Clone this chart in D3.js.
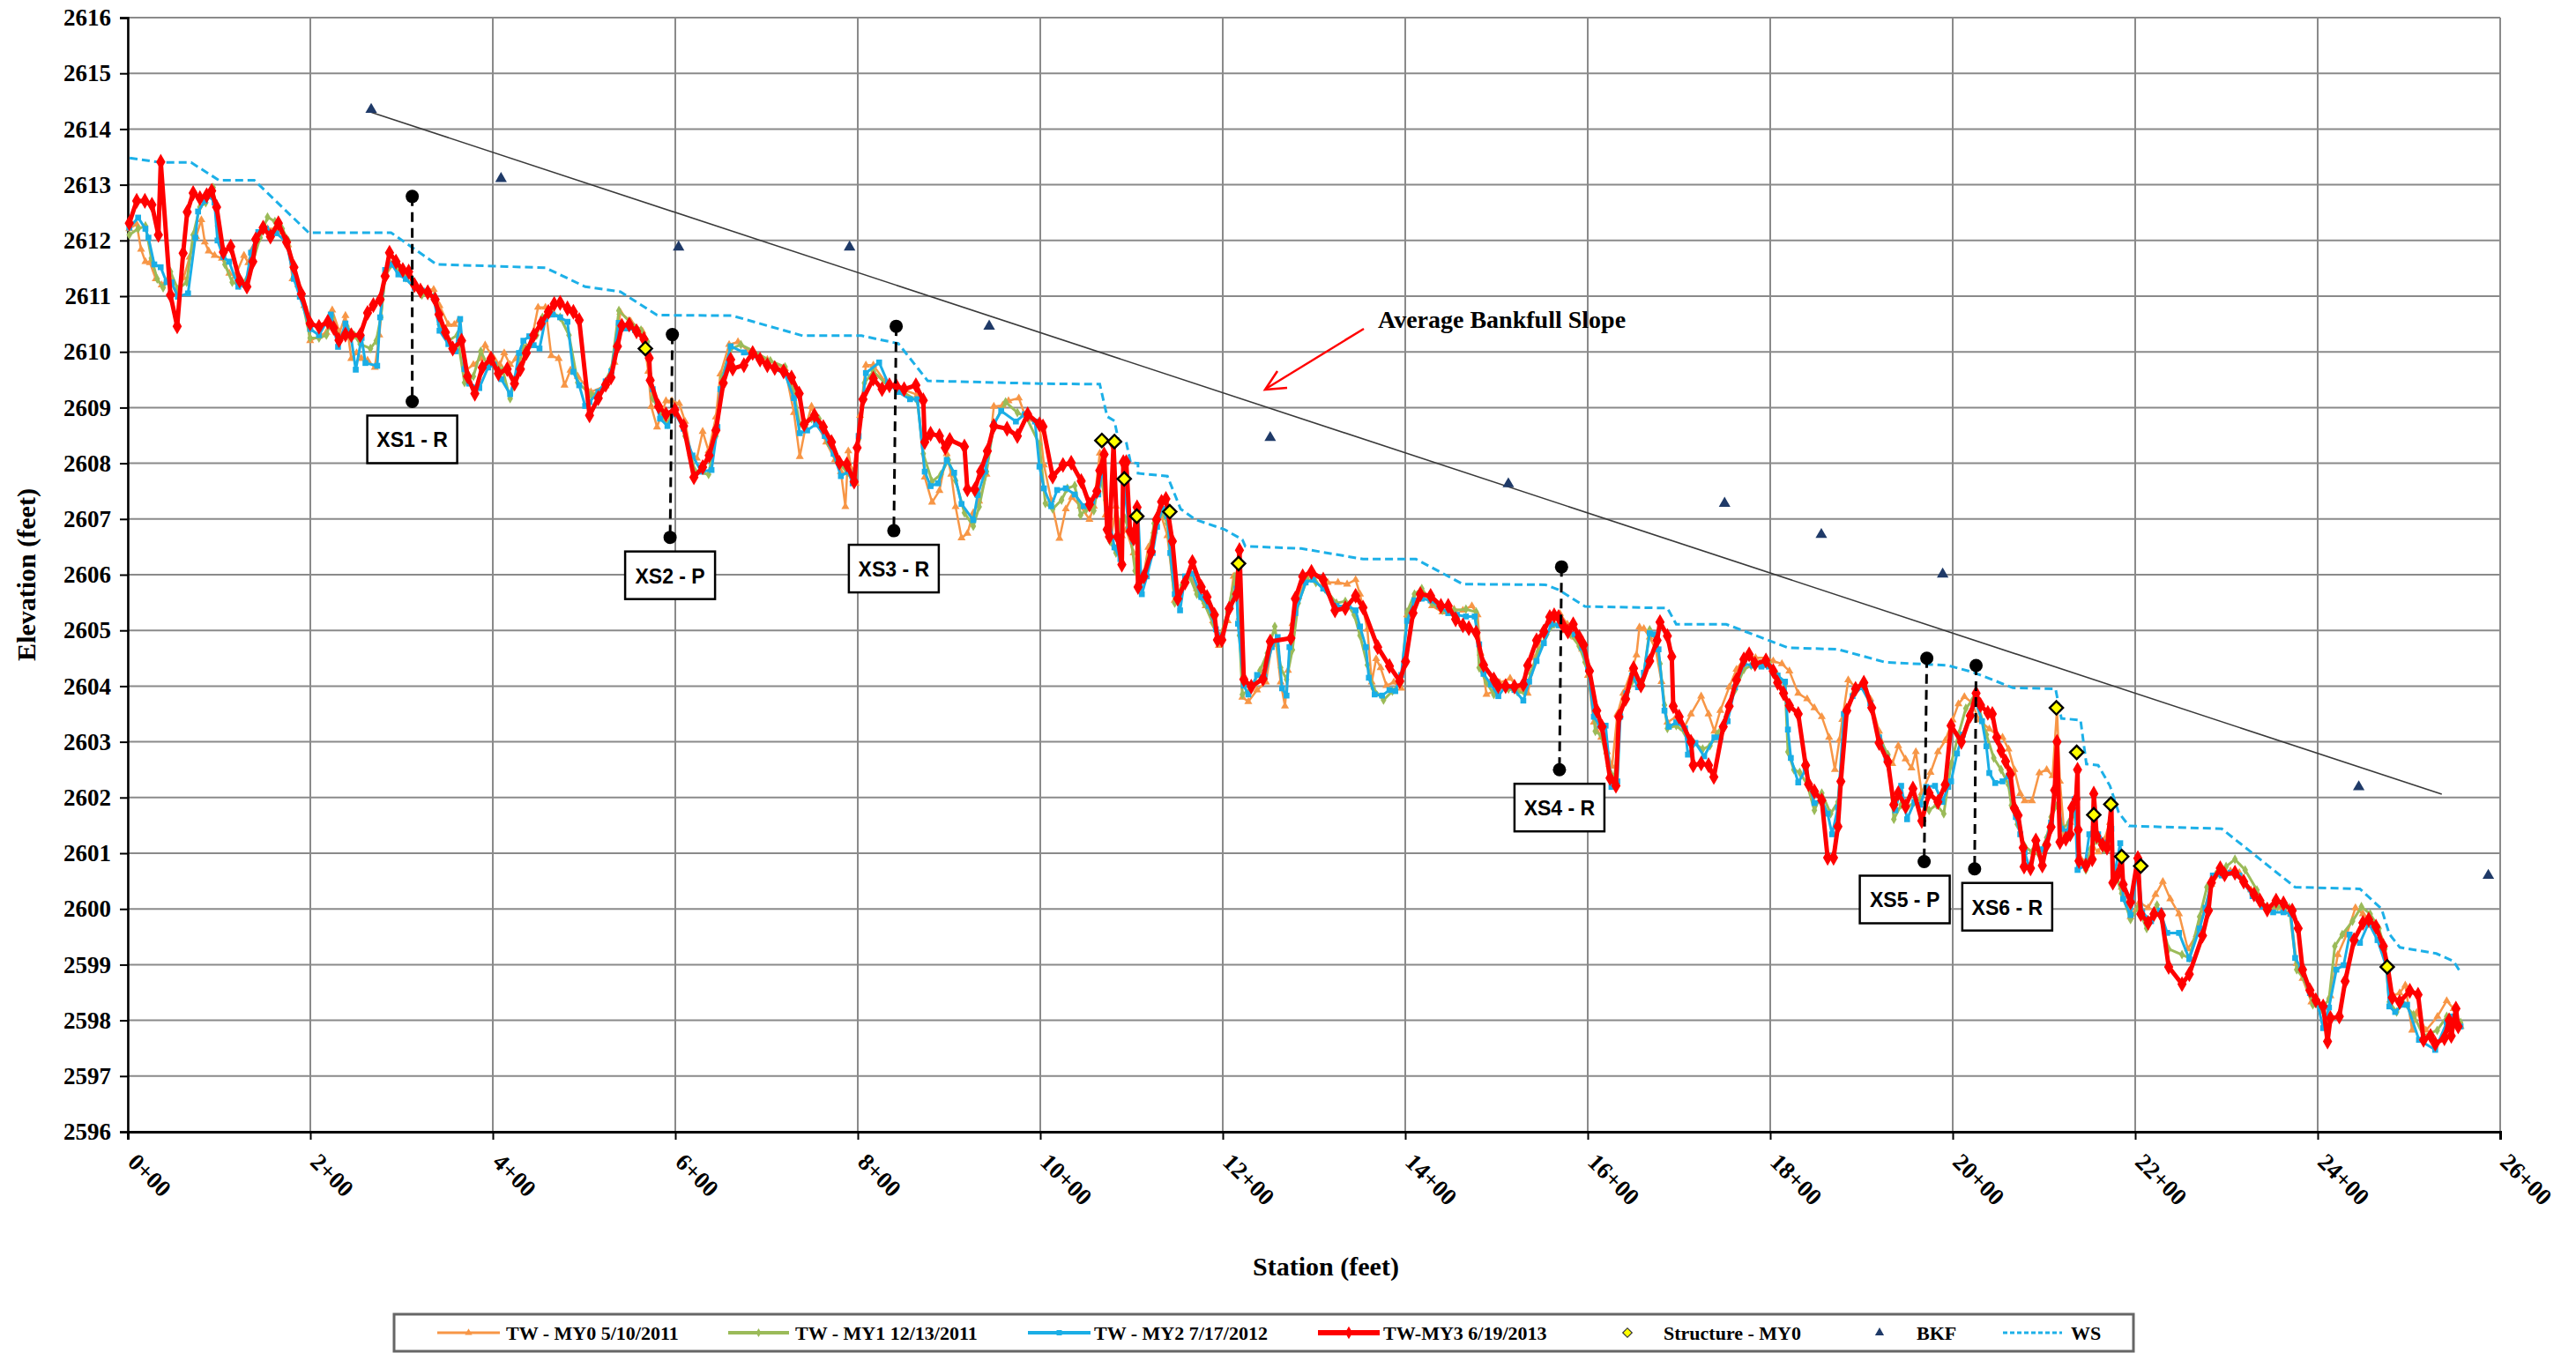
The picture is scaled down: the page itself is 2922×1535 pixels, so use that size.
<!DOCTYPE html>
<html>
<head>
<meta charset="utf-8">
<title>Longitudinal Profile</title>
<script src="https://d3js.org/d3.v7.min.js"></script>
<style>
body{margin:0; background:#fff;}
svg{display:block; background:#fff;}
text{font-family:"Liberation Serif","Times New Roman",serif; font-weight:bold; fill:#000;}
</style>
</head>
<body>
<script>
// ---- data: [station (ft), elevation (ft)] ----
var twMY0 = [[1.6,2612.21],[9.7,2612.29],[14.5,2611.84],[19.3,2611.62],[24.2,2611.60],[30.6,2611.31],[37.1,2611.20],[45.1,2611.33],[53.2,2611.04],[61.2,2611.33],[67.7,2611.70],[74.8,2612.07],[80.6,2612.37],[84.4,2611.97],[88.6,2611.81],[95.1,2611.73],[103.1,2611.68],[111.2,2611.41],[117.6,2611.36],[127.3,2611.73],[132.1,2611.60],[137,2611.86],[145,2612.15],[153.1,2612.21],[161.2,2612.21],[169.2,2612.15],[175.7,2611.92],[180.5,2611.31],[186.9,2611.20],[193.4,2610.83],[199.8,2610.20],[209.5,2610.28],[217.6,2610.35],[224,2610.75],[232.1,2610.35],[238.5,2610.65],[244.9,2609.88],[250.7,2609.98],[256.2,2609.88],[262.7,2609.85],[270.7,2609.72],[275.6,2610.30],[282,2611.36],[290.1,2611.57],[298.1,2611.52],[306.2,2611.41],[314.2,2611.20],[322.3,2611.12],[335.2,2611.12],[341.6,2610.83],[351.3,2610.49],[357.8,2610.49],[362.6,2610.57],[370.6,2609.67],[378.7,2609.77],[386.8,2609.88],[391.6,2610.12],[401.3,2609.88],[407.7,2609.77],[412.5,2609.98],[419,2609.77],[425.4,2609.88],[430.3,2609.98],[436.7,2610.09],[441.6,2610.14],[449.6,2610.80],[457.7,2610.80],[464.1,2609.93],[472.2,2609.88],[478.6,2609.40],[485.1,2609.67],[493.1,2609.56],[507.6,2609.28],[523.7,2609.39],[533.4,2609.81],[539.8,2610.71],[551,2610.55],[564,2610.37],[570.4,2609.65],[573.6,2609.02],[580,2608.65],[589.8,2609.12],[596.2,2609.12],[604.3,2609.07],[610.7,2608.75],[617.2,2608.17],[623.6,2608.09],[630,2608.57],[636.5,2608.22],[644.5,2608.83],[649.4,2609.60],[659,2610.13],[668.7,2610.18],[681.6,2609.99],[700.9,2609.86],[720.3,2609.70],[730,2608.91],[736.4,2608.12],[742.8,2608.65],[749.3,2609.02],[755.7,2608.70],[765.4,2608.38],[775,2608.06],[781.5,2607.85],[786.4,2607.22],[789.6,2608.22],[792.8,2607.90],[797.6,2607.64],[802.5,2608.86],[808.9,2609.76],[817,2609.76],[829.9,2609.47],[845,2609.35],[865.3,2609.23],[873.4,2607.75],[881.4,2607.30],[889.5,2607.51],[897.5,2608.17],[902.4,2607.80],[907.2,2607.22],[913.7,2606.66],[920.1,2606.74],[926.6,2607.11],[933,2607.32],[941.1,2607.80],[949.1,2609.02],[958.8,2609.04],[965.2,2609.12],[976.5,2609.17],[984.6,2608.80],[999.1,2608.71],[1004,2607.97],[1012,2607.34],[1021,2606.65],[1028,2607.18],[1034.6,2607.39],[1044.2,2607.23],[1053.9,2606.99],[1058.7,2607.23],[1065.2,2608.18],[1071.6,2607.07],[1078,2606.70],[1083,2607.23],[1089.4,2606.70],[1094.2,2606.81],[1102.3,2606.39],[1107.1,2605.81],[1113.5,2606.02],[1118.4,2606.49],[1124.8,2606.78],[1131.3,2607.13],[1139.3,2606.70],[1147.4,2605.54],[1157,2605.86],[1163.5,2606.02],[1171.6,2605.75],[1181.2,2605.44],[1189.3,2605.17],[1195.7,2604.73],[1205.4,2605.17],[1211.8,2605.97],[1218.3,2605.23],[1221.5,2603.80],[1228,2603.72],[1237.6,2603.93],[1247.3,2604.07],[1253.7,2604.75],[1258.6,2604.75],[1263.4,2604.07],[1268.2,2603.64],[1271.5,2604.28],[1276.3,2605.12],[1282.7,2605.60],[1292.4,2605.97],[1302.1,2605.97],[1315,2605.86],[1326.3,2605.86],[1336.3,2605.83],[1345.6,2605.91],[1350.4,2605.65],[1358.5,2605.02],[1363.3,2604.07],[1368.1,2604.49],[1373,2604.33],[1379.4,2604.01],[1387.5,2604.07],[1395.6,2603.96],[1402,2605.28],[1410.1,2605.54],[1419.7,2605.65],[1429.4,2605.44],[1440.7,2605.33],[1453.5,2605.38],[1463.2,2605.36],[1473,2605.44],[1479.3,2605.28],[1482.6,2604.59],[1489,2603.85],[1497.1,2603.91],[1503.6,2604.06],[1514.9,2604.14],[1526.1,2603.93],[1534.2,2603.87],[1542.2,2604.51],[1551.9,2605.03],[1561.6,2605.24],[1569.6,2605.30],[1577.7,2605.11],[1585.8,2604.88],[1593.8,2604.66],[1600.3,2604.19],[1606.7,2603.35],[1614.8,2603.08],[1621.2,2602.82],[1626.7,2602.56],[1632.5,2603.50],[1638.9,2603.87],[1648.6,2604.30],[1653.4,2604.56],[1656.7,2605.06],[1661.5,2605.03],[1667.9,2604.88],[1674.4,2604.66],[1680.8,2604.08],[1687.3,2603.35],[1697,2603.45],[1705,2603.24],[1713.1,2603.50],[1724.3,2603.82],[1732.4,2603.50],[1738.8,2603.19],[1745.3,2603.56],[1755,2603.98],[1763,2604.30],[1774.3,2604.56],[1783.9,2604.51],[1795.3,2604.51],[1803.3,2604.45],[1812.8,2604.40],[1821,2604.27],[1830.7,2603.87],[1840.4,2603.77],[1848.4,2603.61],[1856.5,2603.45],[1864.5,2603.08],[1870.9,2602.50],[1875.8,2603.03],[1879,2603.40],[1885.5,2604.11],[1893.5,2603.98],[1901.6,2604.03],[1909.7,2603.77],[1919.3,2603.19],[1927.4,2602.77],[1933.8,2602.61],[1940.3,2602.93],[1948.3,2602.69],[1954.8,2602.53],[1959.6,2602.82],[1966,2602.08],[1975.7,2602.45],[1983.8,2602.82],[1991.8,2603.02],[1999.9,2603.39],[2006.3,2603.68],[2012.8,2603.81],[2020.8,2603.71],[2028.9,2603.39],[2040.1,2603.23],[2048.2,2603.13],[2054.6,2603.08],[2061.1,2602.87],[2067.5,2602.50],[2074,2602.07],[2078.8,2601.94],[2086.9,2601.94],[2094.9,2602.44],[2103,2602.50],[2109.4,2602.39],[2114.3,2603.58],[2117.5,2602.29],[2122.3,2601.34],[2128.8,2601.55],[2135.2,2601.86],[2140.1,2600.91],[2146.5,2600.86],[2153,2601.13],[2159.4,2601.02],[2165.8,2601.23],[2172.3,2601.55],[2177.1,2600.65],[2185.2,2600.39],[2194.9,2599.86],[2204.5,2600.12],[2214.2,2600.02],[2222.2,2600.26],[2230.3,2600.49],[2238.4,2600.18],[2248,2599.91],[2257.7,2599.28],[2267.4,2599.54],[2275.4,2599.97],[2283.5,2600.44],[2293.2,2600.65],[2304.4,2600.68],[2314.1,2600.65],[2327,2600.34],[2338.3,2600.10],[2349.6,2600.02],[2362.5,2599.99],[2370.5,2599.91],[2377,2599.02],[2383.4,2598.75],[2393.1,2598.33],[2404.3,2598.17],[2410.8,2597.96],[2414,2598.44],[2422.1,2599.18],[2431.7,2599.54],[2441.4,2600.02],[2449.5,2599.91],[2459.1,2599.70],[2468.8,2599.49],[2476.9,2598.96],[2481.7,2598.44],[2489.8,2598.49],[2496,2598.63],[2503.5,2597.82],[2508.6,2598.14],[2518.7,2597.82],[2531.3,2598.07],[2541.4,2598.35],[2549,2598.21],[2556.6,2597.89]];

var twMY1 = [[1.6,2612.10],[11.3,2612.21],[19.3,2612.26],[25.8,2611.68],[32.2,2611.31],[38.7,2611.15],[46.7,2611.44],[54.8,2611.12],[64.5,2611.25],[71.6,2612.10],[79,2612.60],[85.4,2612.68],[93.5,2612.95],[98.3,2612.26],[106.4,2611.57],[114.4,2611.25],[122.5,2611.20],[130.5,2611.31],[137,2611.62],[145,2612.05],[153.1,2612.42],[161.2,2612.34],[169.2,2612.21],[175.7,2612.00],[182.1,2611.36],[190.2,2610.99],[199.8,2610.25],[209.5,2610.25],[217.6,2610.30],[224,2610.62],[232.1,2610.20],[240.1,2610.46],[248.2,2610.30],[254.6,2610.14],[265.9,2610.06],[272.3,2610.20],[277.2,2610.62],[282,2611.36],[288.5,2611.57],[296.5,2611.47],[304.6,2611.33],[314.2,2611.15],[322.3,2611.02],[335.2,2610.99],[341.6,2610.49],[351.3,2610.20],[361,2610.30],[369,2609.45],[378.7,2609.56],[386.8,2610.01],[394.8,2609.75],[402.9,2609.77],[410.9,2609.67],[419,2609.16],[425.4,2609.56],[433.5,2610.09],[441.6,2610.14],[448,2610.30],[454.4,2610.62],[464.1,2610.72],[473.8,2610.62],[483.5,2610.30],[493.1,2609.45],[507.6,2609.23],[517.2,2609.28],[530.1,2609.70],[538.2,2610.74],[549.5,2610.55],[562.4,2610.39],[569.5,2610.18],[575.3,2609.17],[583.3,2608.91],[591.4,2608.70],[599.4,2609.02],[610.7,2608.49],[622,2607.85],[636.5,2607.80],[644.5,2608.49],[651,2609.54],[660.7,2610.05],[671.9,2610.13],[684.8,2610.02],[704.2,2609.84],[720.3,2609.73],[730,2609.28],[736.4,2608.70],[749.3,2608.80],[757.4,2608.80],[767,2608.38],[776.7,2608.04],[788,2607.85],[794.4,2607.69],[800.9,2608.43],[807.3,2609.44],[817,2609.65],[833.1,2609.39],[844.4,2609.33],[865.3,2609.12],[871.8,2608.17],[881.4,2607.67],[891.1,2607.80],[899.2,2608.06],[907.2,2607.69],[916.9,2607.11],[926.6,2606.87],[933,2607.22],[941.1,2607.85],[949.1,2608.70],[962,2609.10],[974.9,2608.91],[984.6,2608.83],[999.1,2608.34],[1005.6,2607.28],[1013.6,2607.18],[1023.3,2607.34],[1029.7,2607.55],[1037.8,2607.60],[1044.2,2607.07],[1050.7,2607.18],[1058.7,2607.15],[1065.2,2607.81],[1071.6,2607.34],[1076.5,2606.60],[1083,2606.39],[1087.8,2606.92],[1092.6,2607.02],[1099,2606.70],[1103.9,2606.07],[1110.3,2605.86],[1118.4,2606.28],[1124.8,2606.92],[1131.3,2607.18],[1139.3,2606.92],[1147.4,2605.49],[1155.4,2605.81],[1163.5,2605.97],[1171.6,2605.65],[1179.6,2605.49],[1189.3,2605.12],[1195.7,2604.80],[1205.4,2605.33],[1213.5,2605.97],[1218.3,2604.91],[1221.5,2603.85],[1231.2,2603.96],[1240.8,2604.28],[1248.9,2604.59],[1257,2605.07],[1263.4,2604.33],[1269.9,2604.12],[1276.3,2604.65],[1282.7,2605.49],[1292.4,2605.91],[1302.1,2605.86],[1311.8,2605.75],[1324.6,2605.49],[1334.3,2605.52],[1344.1,2605.28],[1350.4,2604.91],[1358.5,2604.38],[1364.9,2603.96],[1376.2,2603.75],[1385.9,2603.91],[1395.6,2604.07],[1402,2605.33],[1410.1,2605.65],[1418.1,2605.75],[1429.4,2605.49],[1440.7,2605.36],[1453.5,2605.36],[1466.5,2605.38],[1477.7,2605.33],[1481,2604.33],[1489,2604.07],[1497.1,2603.85],[1502,2603.98],[1513.2,2603.95],[1522.9,2603.90],[1531,2603.87],[1537.4,2604.22],[1545.5,2604.61],[1555.1,2604.93],[1563.2,2605.11],[1572.9,2605.03],[1580.9,2604.93],[1590.6,2604.72],[1597,2604.43],[1603.5,2603.98],[1608.3,2603.19],[1614.8,2603.11],[1622.8,2602.56],[1629.3,2602.35],[1635.7,2603.51],[1643.8,2603.90],[1651.8,2604.14],[1659.9,2604.03],[1667.9,2605.01],[1674.4,2604.88],[1679.2,2604.40],[1684.1,2603.66],[1687.3,2603.24],[1697,2603.29],[1706.6,2603.16],[1716.3,2602.98],[1726,2602.87],[1734,2602.93],[1742.1,2603.14],[1751.7,2603.45],[1761.4,2603.93],[1771.1,2604.30],[1779.1,2604.37],[1788.8,2604.40],[1798.5,2604.43],[1808.1,2604.19],[1816.2,2604.03],[1819.4,2602.82],[1825.9,2602.50],[1832.3,2602.45],[1840.4,2602.24],[1848.4,2601.77],[1856.5,2602.08],[1866.2,2601.71],[1874.2,2601.92],[1882.3,2603.50],[1890.3,2603.85],[1900,2604.03],[1909.7,2603.72],[1919.3,2603.08],[1929,2602.77],[1935.5,2601.61],[1943.5,2601.87],[1950,2601.82],[1958,2601.92],[1964.5,2601.98],[1974.1,2601.77],[1982.2,2601.87],[1990.2,2601.71],[1998.2,2602.60],[2006.3,2603.13],[2014.4,2603.60],[2022.4,2603.76],[2028.9,2603.60],[2036.9,2603.13],[2045,2602.71],[2053,2602.50],[2061.1,2602.23],[2064.3,2601.86],[2070.8,2601.52],[2078.8,2601.13],[2086.9,2601.02],[2094.9,2600.97],[2103,2601.28],[2107.8,2601.65],[2114.3,2601.86],[2120.7,2601.44],[2127.2,2601.55],[2133.6,2601.71],[2138.4,2600.91],[2145.9,2600.70],[2151.3,2601.07],[2157.8,2601.23],[2165.8,2601.07],[2172.3,2601.23],[2177.1,2600.70],[2185.2,2600.28],[2194.9,2599.81],[2202.9,2600.02],[2212.6,2599.65],[2223.9,2600.07],[2236.7,2599.28],[2251.3,2599.18],[2259.3,2599.12],[2270.6,2599.86],[2278.6,2600.39],[2288.3,2600.62],[2299.6,2600.76],[2309.3,2600.89],[2320.5,2600.70],[2333.4,2600.34],[2343.1,2600.02],[2356,2600.04],[2368.9,2600.02],[2377,2598.91],[2384.9,2598.75],[2394.7,2598.28],[2404.3,2598.20],[2412.4,2598.38],[2418.8,2599.33],[2426.9,2599.54],[2438.2,2599.78],[2447.9,2600.04],[2457.5,2599.91],[2467.2,2599.65],[2473.6,2599.28],[2478.5,2598.33],[2486.5,2598.15],[2493,2598.33],[2505,2598.10],[2516,2597.72],[2531,2597.82],[2541.4,2598.07],[2556.6,2597.96]];

var twMY2 = [[1.6,2612.23],[11.3,2612.41],[19.3,2612.21],[22.6,2612.05],[29,2611.57],[36,2611.52],[42.5,2611.25],[48,2611.25],[54.8,2610.99],[66,2611.05],[74,2612.05],[77,2612.52],[84.4,2612.71],[90,2612.79],[95,2612.68],[98.3,2612.00],[104.7,2611.70],[111,2611.62],[121,2611.17],[129,2611.20],[135,2611.78],[143,2612.15],[151.5,2612.21],[162.8,2612.13],[174,2611.97],[182,2611.31],[188.5,2610.99],[200,2610.41],[209.5,2610.30],[222.4,2610.67],[230.4,2610.09],[238.5,2610.51],[244.3,2610.30],[249.8,2609.68],[256.2,2610.25],[260.4,2609.80],[273.3,2609.75],[276.5,2610.62],[282,2611.47],[289.4,2611.57],[296.5,2611.39],[304.6,2611.31],[314.2,2611.15],[322.3,2611.10],[335.2,2610.99],[341.6,2610.38],[351.3,2610.14],[359.4,2610.01],[364.2,2610.59],[369,2609.69],[374,2609.43],[385.2,2609.35],[394.8,2609.72],[401.3,2609.77],[409.3,2609.51],[419,2609.24],[423.8,2609.51],[428.7,2609.98],[433.5,2610.20],[440,2610.28],[444.8,2610.12],[451.2,2610.06],[457.7,2610.59],[465.7,2610.67],[473.8,2610.62],[481.8,2610.54],[488.3,2609.64],[494.7,2609.40],[501.2,2609.03],[506,2609.10],[515.6,2609.28],[523.7,2609.47],[530,2609.65],[538,2610.52],[546.2,2610.42],[555.9,2610.39],[565.6,2610.23],[568.8,2610.02],[575.3,2609.33],[583.3,2608.80],[591.4,2608.67],[599.4,2608.91],[609.1,2608.62],[618.8,2608.14],[628.4,2607.85],[639.7,2607.88],[646.2,2608.65],[649.4,2609.33],[660.7,2610.10],[675.2,2609.99],[684.8,2609.94],[700.9,2609.76],[720.3,2609.60],[730,2609.17],[736.4,2608.54],[744.5,2608.59],[754.1,2608.70],[763.8,2608.49],[773.5,2608.17],[781.5,2607.77],[789.6,2607.85],[794.4,2607.64],[800.9,2608.49],[808.9,2609.62],[823.4,2609.81],[833.1,2609.44],[844.3,2609.28],[857.3,2609.15],[865.3,2609.15],[873.4,2607.85],[879.8,2607.59],[887.9,2607.64],[897.5,2608.06],[905.6,2607.83],[913.7,2607.27],[926.6,2606.98],[931.4,2607.43],[939.5,2607.85],[949.1,2608.70],[957.2,2608.94],[973.3,2608.75],[983,2608.88],[994.2,2608.75],[999.1,2607.94],[1004,2607.55],[1012,2607.23],[1018.5,2607.52],[1028,2607.55],[1037.8,2607.44],[1047.5,2607.23],[1057,2607.31],[1063.6,2607.44],[1068.4,2607.92],[1073.3,2607.18],[1081.3,2606.49],[1087.8,2606.28],[1091.6,2607.65],[1097.4,2606.81],[1102.3,2606.60],[1107,2607.18],[1111.3,2605.65],[1116.8,2605.97],[1123.2,2606.39],[1128,2606.86],[1133.8,2607.18],[1139.3,2607.05],[1142.5,2606.39],[1147.4,2605.65],[1153.2,2605.36],[1158.7,2605.97],[1166.7,2606.02],[1176.4,2605.60],[1184.4,2605.44],[1192.5,2605.02],[1199,2604.88],[1208.6,2605.44],[1215.1,2605.75],[1216.7,2605.12],[1223.1,2604.01],[1228,2603.85],[1237.6,2604.20],[1245.7,2604.17],[1253.7,2604.70],[1260.2,2604.88],[1265,2603.96],[1269.9,2603.83],[1273.1,2604.70],[1279.5,2605.31],[1290.8,2605.86],[1298.9,2605.91],[1310.1,2605.75],[1324.6,2605.44],[1337.5,2605.44],[1345.6,2605.36],[1350.4,2605.07],[1356.9,2604.70],[1360.1,2604.15],[1366.5,2603.85],[1374.6,2603.83],[1382.7,2603.93],[1389.1,2603.91],[1395.6,2604.20],[1402,2605.17],[1410.1,2605.54],[1418.1,2605.57],[1427.8,2605.54],[1437.4,2605.44],[1447.1,2605.31],[1456.6,2605.28],[1466.5,2605.25],[1476.1,2605.25],[1481,2604.75],[1485.8,2604.22],[1493.9,2604.03],[1502,2603.82],[1510,2604.00],[1519.7,2603.93],[1529.4,2603.74],[1535.8,2604.08],[1543.9,2604.45],[1551.9,2604.77],[1560,2605.11],[1568,2605.09],[1576.1,2605.03],[1585.8,2604.93],[1593.8,2604.69],[1600.3,2604.30],[1606.7,2603.45],[1613.2,2603.29],[1619.6,2603.29],[1626,2602.19],[1632.5,2602.29],[1635.7,2603.45],[1642.2,2603.87],[1648.6,2604.19],[1655.1,2603.98],[1661.5,2604.24],[1667.9,2604.95],[1672.8,2604.93],[1677.6,2604.66],[1684.1,2603.56],[1688.9,2603.27],[1697,2603.35],[1706.6,2603.24],[1709.8,2602.77],[1718,2602.98],[1727.6,2602.74],[1738.8,2603.08],[1745.3,2603.08],[1753.3,2603.37],[1761.4,2603.98],[1771.1,2604.40],[1780.7,2604.37],[1790.4,2604.35],[1798.5,2604.35],[1808.1,2604.19],[1816.2,2604.08],[1819.4,2603.22],[1822.6,2602.71],[1830.7,2602.27],[1838.8,2602.50],[1848.4,2601.90],[1856.5,2601.95],[1862.9,2601.71],[1867.8,2601.34],[1874.2,2601.82],[1880.7,2603.50],[1890.3,2603.82],[1900,2603.98],[1909.7,2603.69],[1919.3,2603.08],[1927.4,2602.71],[1937.1,2601.77],[1943.5,2602.21],[1950,2601.61],[1958,2601.92],[1964.5,2601.87],[1970.9,2602.19],[1980.6,2602.21],[1988.6,2601.92],[1995.1,2602.19],[1998.2,2602.29],[2004.7,2602.79],[2011.1,2603.13],[2019.2,2603.47],[2025.6,2603.71],[2032.1,2603.37],[2036.9,2602.92],[2040.1,2602.44],[2046.6,2602.26],[2054.6,2602.29],[2061.1,2602.39],[2069.2,2601.65],[2074,2601.34],[2078.8,2601.02],[2083.7,2600.76],[2091.7,2601.13],[2099.8,2601.07],[2107.8,2601.55],[2114.3,2602.29],[2119.1,2601.44],[2125.6,2601.39],[2133.6,2601.97],[2136.8,2600.70],[2144.9,2600.78],[2149.7,2601.34],[2154.6,2601.44],[2159.4,2601.34],[2167.5,2601.18],[2173.9,2601.44],[2177.1,2600.60],[2183.6,2601.18],[2186.8,2600.18],[2194.9,2599.89],[2202.9,2600.76],[2207.7,2599.94],[2217.4,2599.78],[2227.1,2599.97],[2235.1,2599.57],[2248,2599.57],[2259.3,2599.10],[2270.6,2599.65],[2277,2600.02],[2285.1,2600.60],[2294.8,2600.60],[2304.4,2600.65],[2314.1,2600.60],[2328.6,2600.23],[2339.9,2600.04],[2351.2,2599.94],[2362.5,2599.94],[2370.5,2599.91],[2375.3,2599.12],[2381.8,2598.94],[2391.5,2598.49],[2399.5,2598.33],[2406,2597.86],[2412.4,2598.23],[2420.5,2598.91],[2428.5,2598.99],[2435,2599.54],[2446.3,2599.39],[2455.9,2599.75],[2465.6,2599.44],[2475.3,2598.96],[2478.5,2598.25],[2484.9,2598.15],[2493,2598.28],[2498,2598.28],[2511,2597.65],[2528.8,2597.47],[2541.4,2597.96],[2546.4,2598.07],[2556.6,2597.89]];

var twMY3 = [[1.6,2612.31],[9.7,2612.71],[18.7,2612.71],[26.4,2612.64],[33.5,2612.10],[36.1,2613.41],[46.7,2611.02],[54.1,2610.46],[60.6,2611.77],[65.1,2612.51],[71.6,2612.85],[79,2612.76],[86.4,2612.81],[91.9,2612.89],[97.3,2612.60],[104.7,2611.79],[112.8,2611.89],[122.5,2611.28],[130.5,2611.17],[137,2611.62],[140.2,2612.02],[148.3,2612.23],[156.3,2612.07],[165,2612.31],[174,2611.97],[182.1,2611.52],[190.2,2611.04],[199.8,2610.51],[209.5,2610.45],[219.2,2610.54],[225.6,2610.43],[231.4,2610.21],[238.5,2610.31],[244.9,2610.30],[254.6,2610.30],[262.7,2610.70],[269.1,2610.84],[276.5,2610.94],[282,2611.36],[286.8,2611.78],[293.9,2611.62],[301.4,2611.47],[307.8,2611.44],[314.2,2611.20],[320.7,2611.10],[328.7,2611.07],[336.8,2610.94],[341,2610.67],[348.1,2610.35],[356.1,2610.06],[365.8,2610.20],[372.3,2609.56],[380.3,2609.25],[388.4,2609.72],[398,2609.88],[406.1,2609.61],[415.8,2609.69],[423.8,2609.43],[430.3,2609.69],[436.7,2609.98],[444.8,2610.30],[452.8,2610.51],[460.9,2610.72],[467.3,2610.86],[473.8,2610.88],[481.8,2610.78],[488.3,2610.72],[494.7,2610.57],[506,2608.86],[515.6,2609.17],[523.7,2609.41],[529.5,2609.54],[536.6,2610.10],[541.4,2610.47],[549.5,2610.49],[557.5,2610.37],[565.6,2610.23],[571.4,2609.89],[572.5,2609.49],[581.7,2609.02],[589.8,2608.88],[599.4,2608.96],[609.1,2608.67],[620.4,2607.75],[630,2607.93],[637.1,2608.14],[644.5,2608.59],[652.6,2609.44],[660.7,2609.86],[662.9,2609.70],[675.2,2609.76],[684.8,2609.98],[692.9,2609.86],[700.9,2609.76],[709,2609.71],[718.7,2609.65],[727.4,2609.54],[735.8,2609.25],[741.2,2608.70],[752.5,2608.86],[762.2,2608.65],[771.2,2608.38],[779.9,2608.01],[788,2607.98],[796,2607.67],[799.3,2608.28],[805.7,2609.15],[817,2609.52],[826.6,2609.33],[834.7,2609.40],[842.1,2609.39],[850.8,2609.33],[863.7,2609.40],[871.8,2609.13],[873.4,2608.38],[879.8,2608.53],[889.5,2608.49],[895.9,2608.28],[900.8,2608.42],[916.9,2608.30],[920.1,2607.53],[928.2,2607.53],[934.6,2607.85],[942,2608.22],[949.1,2608.67],[963.6,2608.62],[974.9,2608.49],[986.2,2608.88],[999.1,2608.70],[1003,2608.66],[1013.6,2607.76],[1024.9,2607.97],[1033.9,2608.01],[1044.9,2607.68],[1053.9,2607.26],[1062,2607.50],[1065.2,2607.87],[1070,2608.16],[1073.3,2606.81],[1075.8,2606.68],[1080.3,2608.34],[1084.5,2606.68],[1089.4,2606.18],[1091,2608.02],[1094.2,2608.02],[1098.4,2606.78],[1102.3,2606.65],[1106.1,2607.21],[1107.1,2605.78],[1113.5,2605.97],[1121.6,2606.41],[1127.4,2606.99],[1132.9,2607.31],[1137.7,2607.36],[1144.8,2606.60],[1150.6,2605.57],[1158.7,2605.86],[1166.7,2606.23],[1176.4,2605.78],[1182.8,2605.60],[1190.9,2605.28],[1194.1,2604.83],[1199,2604.83],[1207,2605.39],[1215.1,2605.65],[1218.3,2606.44],[1223.1,2604.12],[1231.2,2603.99],[1244.1,2604.13],[1252.1,2604.80],[1274.7,2604.86],[1279.5,2605.57],[1287.6,2605.97],[1297.2,2606.05],[1310.1,2605.91],[1323,2605.36],[1334.3,2605.40],[1345.6,2605.62],[1353.7,2605.41],[1369.8,2604.70],[1382.7,2604.36],[1394,2604.09],[1400.4,2604.44],[1408.5,2605.31],[1416.5,2605.65],[1427.8,2605.62],[1439.1,2605.44],[1447.1,2605.44],[1455.2,2605.20],[1463.2,2605.09],[1469.7,2605.04],[1477.7,2604.96],[1485.8,2604.38],[1497.1,2604.12],[1502,2604.00],[1510,2604.00],[1519.7,2603.99],[1529.4,2604.03],[1534.2,2604.37],[1543.9,2604.82],[1551.9,2604.98],[1558.4,2605.24],[1563.2,2605.27],[1568,2605.24],[1572.9,2605.09],[1578.3,2604.98],[1584.1,2605.11],[1590.6,2604.88],[1595.4,2604.74],[1601.9,2604.27],[1609.9,2603.56],[1615.7,2603.27],[1624.4,2602.35],[1630.9,2602.21],[1634.1,2603.45],[1641.5,2603.77],[1650.2,2604.32],[1658.3,2604.01],[1667.9,2604.45],[1676,2604.82],[1679.2,2605.15],[1687.3,2604.90],[1692.1,2604.53],[1693.7,2603.64],[1700.2,2603.45],[1713.1,2603.00],[1715.6,2602.58],[1724.3,2602.61],[1732.4,2602.58],[1738.2,2602.37],[1748.5,2603.27],[1755,2603.64],[1763,2604.11],[1771.1,2604.48],[1776.9,2604.57],[1783.3,2604.40],[1795.3,2604.46],[1803.3,2604.27],[1808.1,2604.06],[1814.6,2603.87],[1821,2603.65],[1830.7,2603.50],[1838.8,2602.58],[1842,2602.24],[1848.4,2602.11],[1856.5,2601.95],[1862.9,2600.92],[1869.4,2600.92],[1874.2,2601.48],[1877.4,2602.29],[1883.9,2603.56],[1893.5,2603.95],[1902.6,2604.06],[1911.3,2603.61],[1919.3,2602.98],[1929,2602.64],[1935.4,2601.87],[1940.3,2602.08],[1948.3,2601.84],[1956.4,2602.16],[1966.1,2601.58],[1974.1,2602.08],[1983.8,2601.92],[1991.8,2602.23],[1998.2,2603.29],[2009.5,2603.00],[2019.2,2603.47],[2025.6,2603.87],[2030.5,2603.66],[2038.5,2603.52],[2043.4,2603.50],[2048.2,2603.08],[2053,2602.84],[2057.9,2602.65],[2063.3,2602.42],[2067.5,2601.81],[2071.7,2601.68],[2077.2,2601.10],[2078.2,2600.76],[2085.3,2600.73],[2091.1,2601.23],[2098.2,2600.78],[2103,2601.15],[2107.8,2601.47],[2111.7,2602.13],[2114.3,2603.00],[2117.5,2601.20],[2124,2601.26],[2128.8,2601.34],[2130.4,2601.81],[2135.2,2601.97],[2136.8,2602.50],[2137.5,2601.42],[2138.4,2600.86],[2145.9,2600.78],[2152.9,2600.89],[2154.6,2602.07],[2157.8,2601.31],[2164.2,2601.15],[2169.1,2601.10],[2173.9,2601.86],[2175.5,2600.47],[2180.3,2600.60],[2185.2,2600.91],[2186.8,2600.44],[2194.9,2600.12],[2202.9,2600.91],[2206.1,2599.91],[2214.2,2599.75],[2220.6,2599.91],[2228.7,2599.89],[2236.7,2598.96],[2251.3,2598.65],[2259.3,2598.83],[2273.8,2599.52],[2280.3,2599.97],[2283.5,2600.47],[2293.2,2600.73],[2298,2600.62],[2309.3,2600.65],[2318.9,2600.49],[2330.2,2600.26],[2336.7,2600.15],[2344.7,2599.99],[2354.4,2600.15],[2362.5,2600.10],[2372.1,2599.97],[2378.6,2599.65],[2383.4,2598.91],[2391.5,2598.54],[2397.9,2598.36],[2406,2598.25],[2410.8,2597.62],[2414,2598.04],[2423.7,2598.07],[2430.1,2598.70],[2439.8,2599.44],[2449.5,2599.75],[2455.9,2599.81],[2463.9,2599.68],[2472,2599.33],[2476.9,2598.94],[2481.7,2598.41],[2489.8,2598.33],[2501,2598.53],[2510,2598.46],[2516,2597.65],[2523.7,2597.72],[2528.8,2597.58],[2538.9,2597.68],[2544,2598.00],[2546.4,2597.72],[2551.5,2598.21],[2554,2597.89]];

var structureMY0 = [[567.2,2610.06],[1067.5,2608.41],[1081.3,2608.39],[1092,2607.72],[1105.8,2607.05],[1141.9,2607.13],[1217.3,2606.20],[2113.6,2603.61],[2135.9,2602.81],[2154.6,2601.69],[2173.3,2601.88],[2185.2,2600.94],[2206.1,2600.77],[2476.2,2598.96]];

var bkf = [[266.7,2614.35],[409,2613.11],[603.6,2611.88],[791,2611.88],[944,2610.46],[1252,2608.46],[1513,2607.63],[1750,2607.28],[1856,2606.72],[1989,2606.01],[2445,2602.19],[2587,2600.60]];

var ws = [[2,2613.48],[35.5,2613.40],[69.3,2613.40],[99.9,2613.08],[138.6,2613.08],[198.2,2612.14],[288.5,2612.14],[338.4,2611.57],[457.7,2611.51],[501.2,2611.17],[539.8,2611.08],[580.1,2610.66],[662.3,2610.65],[739.6,2610.29],[804.1,2610.29],[844.4,2610.15],[876.6,2609.48],[999.1,2609.43],[1065.2,2609.42],[1073.3,2608.84],[1081.3,2608.76],[1086.1,2608.38],[1094.2,2608.38],[1099,2608.01],[1107.1,2608.00],[1107.1,2607.82],[1139.3,2607.77],[1153.8,2607.18],[1169.9,2606.99],[1202.2,2606.81],[1221.5,2606.63],[1224.7,2606.51],[1286,2606.47],[1353.7,2606.28],[1411.7,2606.28],[1463.2,2605.83],[1553.5,2605.82],[1568,2605.73],[1597,2605.43],[1687.3,2605.40],[1697,2605.11],[1751.7,2605.11],[1819.4,2604.69],[1874.2,2604.66],[1925.8,2604.43],[1995.1,2604.37],[2024,2604.24],[2065.9,2603.97],[2112.7,2603.95],[2119.1,2603.42],[2140.1,2603.39],[2146.5,2602.60],[2159.4,2602.58],[2172.3,2602.21],[2181.9,2601.73],[2193.2,2601.49],[2294.8,2601.44],[2375.3,2600.39],[2446.3,2600.36],[2470,2600.00],[2478.5,2599.55],[2490,2599.31],[2530,2599.20],[2549,2599.06],[2557,2598.85]];

var slopeLine = [[267,2614.30],[2536,2602.06]];

var xsNames = ["XS1 - R","XS2 - P","XS3 - R","XS4 - R","XS5 - P","XS6 - R"];
var xsTop = [[311.7,2612.79],[596.8,2610.31],[842.1,2610.46],[1571.3,2606.14],[1971.6,2604.50],[2025.6,2604.37]];
var xsBottom = [[311.7,2609.11],[594.3,2606.67],[839.5,2606.79],[1569,2602.50],[1968.7,2600.85],[2024,2600.72]];

var seriesNames = ["TW - MY0 5/10/2011","TW - MY1 12/13/2011","TW - MY2 7/17/2012","TW-MY3 6/19/2013","Structure - MY0","BKF","WS"];
var yTicks = d3.range(2596, 2617, 1);
var xTicks = d3.range(0, 2601, 200);

// ---- layout ----
var W = 2922, H = 1535;
var m = {left:145, right:2836, top:20, bottom:1284};

var svg = d3.select("body").append("svg").attr("width", W).attr("height", H);

var x = d3.scaleLinear().domain([0, 2600]).range([m.left, m.right]);
var y = d3.scaleLinear().domain([2596, 2616]).range([m.bottom, m.top]);

// gridlines
svg.append("g").selectAll("line.h").data(yTicks).enter().append("line")
  .attr("x1", m.left).attr("x2", m.right)
  .attr("y1", d => y(d)).attr("y2", d => y(d))
  .attr("stroke", "#8a8a8a").attr("stroke-width", 2);
svg.append("g").selectAll("line.v").data(xTicks).enter().append("line")
  .attr("y1", m.top).attr("y2", m.bottom)
  .attr("x1", d => x(d)).attr("x2", d => x(d))
  .attr("stroke", "#8a8a8a").attr("stroke-width", 2);

// axes
var yAxis = d3.axisLeft(y).tickValues(yTicks).tickSize(9).tickPadding(10).tickFormat(d3.format("d"));
var gy = svg.append("g").attr("transform", "translate(" + m.left + ",0)").call(yAxis);
gy.select(".domain").attr("stroke", "#000").attr("stroke-width", 2.5);
gy.selectAll(".tick line").attr("stroke", "#000").attr("stroke-width", 2);
gy.selectAll("text").style("font-size", "27px").style("font-family", "Liberation Serif").style("font-weight", "bold");

var xAxis = d3.axisBottom(x).tickValues(xTicks).tickSize(9).tickFormat(d => (d / 100) + "+00");
var gx = svg.append("g").attr("transform", "translate(0," + m.bottom + ")").call(xAxis);
gx.select(".domain").attr("stroke", "#000").attr("stroke-width", 3);
gx.selectAll(".tick line").attr("stroke", "#000").attr("stroke-width", 2);
gx.selectAll("text")
  .style("font-size", "27px").style("font-family", "Liberation Serif").style("font-weight", "bold")
  .attr("text-anchor", "start").attr("dy", null)
  .attr("x", 0).attr("y", 0)
  .attr("transform", "translate(-2,36) rotate(45)");

// axis titles
svg.append("text").attr("x", 1504).attr("y", 1447).attr("text-anchor", "middle")
  .style("font-size", "30px").text("Station (feet)");
svg.append("text").attr("transform", "translate(40,652) rotate(-90)").attr("text-anchor", "middle")
  .style("font-size", "30px").text("Elevation (feet)");

// ---- series ----
var line = d3.line().x(d => x(d[0])).y(d => y(d[1]));

// average bankfull slope
svg.append("path").datum(slopeLine).attr("d", line)
  .attr("fill", "none").attr("stroke", "#3a3a3a").attr("stroke-width", 1.6);

// WS
svg.append("path").datum(ws).attr("d", line)
  .attr("fill", "none").attr("stroke", "#1CB0E8").attr("stroke-width", 3).attr("stroke-dasharray", "9,5");

function drawSeries(data, color, width, symType, size) {
  var g = svg.append("g");
  g.append("path").datum(data).attr("d", line)
    .attr("fill", "none").attr("stroke", color).attr("stroke-width", width)
    .attr("stroke-linejoin", "round");
  g.selectAll("path.pt").data(data).enter().append("path")
    .attr("class", "pt")
    .attr("d", d3.symbol().type(symType).size(size))
    .attr("transform", d => "translate(" + x(d[0]) + "," + y(d[1]) + ")")
    .attr("fill", color);
}

drawSeries(twMY0, "#F79646", 2.5, d3.symbolTriangle, 36);
drawSeries(twMY1, "#9BBB59", 3, d3.symbolDiamond, 36);
drawSeries(twMY2, "#1AAEE6", 3, d3.symbolSquare, 44);
drawSeries(twMY3, "#FF0000", 5, d3.symbolDiamond, 95);

// structures
svg.append("g").selectAll("path").data(structureMY0).enter().append("path")
  .attr("d", d3.symbol().type(d3.symbolSquare).size(115))
  .attr("transform", d => "translate(" + x(d[0]) + "," + y(d[1]) + ") rotate(45)")
  .attr("fill", "#FFFF00").attr("stroke", "#000").attr("stroke-width", 2.4);

// BKF
svg.append("g").selectAll("path").data(bkf).enter().append("path")
  .attr("d", d3.symbol().type(d3.symbolTriangle).size(75))
  .attr("transform", d => "translate(" + x(d[0]) + "," + y(d[1]) + ")")
  .attr("fill", "#1F3A68");

// cross sections
var xsLabelShift = [0, 0, 0, 0, -22, 37];
var xsg = svg.append("g");
xsNames.forEach(function(name, i) {
  var t = xsTop[i], b = xsBottom[i];
  xsg.append("line")
    .attr("x1", x(t[0])).attr("y1", y(t[1])).attr("x2", x(b[0])).attr("y2", y(b[1]))
    .attr("stroke", "#000").attr("stroke-width", 3).attr("stroke-dasharray", "11,7");
  [t, b].forEach(function(p) {
    xsg.append("circle").attr("cx", x(p[0])).attr("cy", y(p[1])).attr("r", 7.5).attr("fill", "#000");
  });
  var cx = x(b[0]) + xsLabelShift[i], top = y(b[1]) + 16;
  xsg.append("rect").attr("x", cx - 51).attr("y", top).attr("width", 102).attr("height", 54)
    .attr("fill", "#fff").attr("stroke", "#000").attr("stroke-width", 2.5);
  xsg.append("text").attr("x", cx).attr("y", top + 36).attr("text-anchor", "middle")
    .style("font-family", "Liberation Sans, Arial, sans-serif").style("font-size", "23px")
    .text(name);
});

// annotation
svg.append("text").attr("x", 1563).attr("y", 372).style("font-size", "28px").text("Average Bankfull Slope");
var ar = svg.append("g").attr("stroke", "#FF0000").attr("stroke-width", 2.5).attr("fill", "none");
ar.append("line").attr("x1", 1547).attr("y1", 373).attr("x2", 1436).attr("y2", 441);
ar.append("path").attr("d", "M1449,421 L1435,442 L1460,440");

// ---- legend ----
var lg = svg.append("g");
lg.append("rect").attr("x", 447).attr("y", 1491).attr("width", 1973).attr("height", 42)
  .attr("fill", "#fff").attr("stroke", "#666").attr("stroke-width", 3);
var ly = 1512;
var legendItems = [
  {x0:496, x1:567, tx:574, color:"#F79646", w:3, sym:d3.symbolTriangle, s:30},
  {x0:826, x1:895, tx:902, color:"#9BBB59", w:4, sym:d3.symbolDiamond, s:30},
  {x0:1166, x1:1237, tx:1241, color:"#1AAEE6", w:4, sym:d3.symbolSquare, s:36},
  {x0:1495, x1:1565, tx:1569, color:"#FF0000", w:6, sym:d3.symbolDiamond, s:60},
  {mx:1846, tx:1887},
  {mx:2132, tx:2174},
  {x0:2272, x1:2339, tx:2349, color:"#1CB0E8", w:3, dash:"5,3"}
];
legendItems.forEach(function(it, i) {
  if (it.x0 !== undefined) {
    lg.append("line").attr("x1", it.x0).attr("x2", it.x1).attr("y1", ly).attr("y2", ly)
      .attr("stroke", it.color).attr("stroke-width", it.w)
      .attr("stroke-dasharray", it.dash || null);
    if (it.sym) {
      lg.append("path").attr("d", d3.symbol().type(it.sym).size(it.s))
        .attr("transform", "translate(" + ((it.x0 + it.x1) / 2) + "," + ly + ")").attr("fill", it.color);
    }
  } else if (i === 4) {
    lg.append("path").attr("d", d3.symbol().type(d3.symbolSquare).size(55))
      .attr("transform", "translate(" + it.mx + "," + ly + ") rotate(45)")
      .attr("fill", "#FFFF00").attr("stroke", "#333").attr("stroke-width", 1.2);
  } else {
    lg.append("path").attr("d", d3.symbol().type(d3.symbolTriangle).size(45))
      .attr("transform", "translate(" + it.mx + "," + ly + ")").attr("fill", "#1F3A68");
  }
  lg.append("text").attr("x", it.tx).attr("y", ly + 8).style("font-size", "22px").text(seriesNames[i]);
});
</script>
</body>
</html>
